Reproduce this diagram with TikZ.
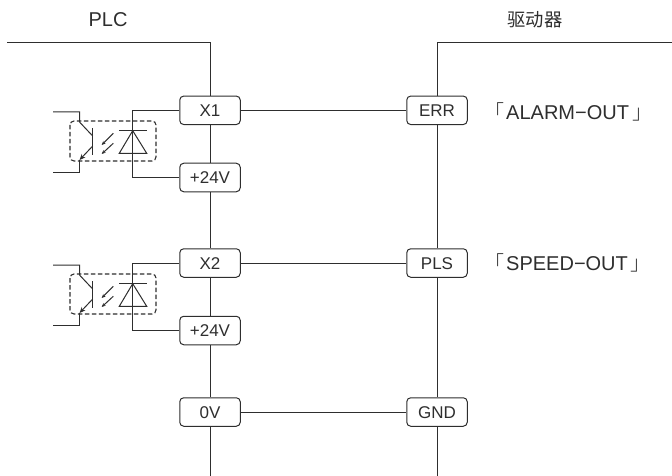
\documentclass[tikz,border=0pt]{standalone}
\usepackage{fontspec}
\setmainfont{Liberation Sans}
\newfontfamily\cjk{Noto Sans CJK SC}
\newfontfamily\cjklight{Noto Sans CJK SC Light}
\usetikzlibrary{calc,positioning,arrows.meta}
\definecolor{wire}{HTML}{2E2E2E}
\newcommand\coupler[3]{% shift, upper terminal, lower terminal
  \begin{scope}[yshift=#1]
    \draw[wireline] (53,112) -- (79.5,112) -- (79.5,122) -- (92.7,136);
    \draw[wireline,-{Stealth[length=6pt,width=5pt]}] (92.7,146) -- (79.5,160);
    \draw[wireline] (79.5,160) -- (79.5,172) -- (53,172);
    \draw[wireline,line width=1.3pt] (92.7,128) -- (92.7,155);
    \draw[wireline,line width=1.1pt,dash pattern=on 4.5pt off 2.5pt,rounded corners=4pt] (70,121) rectangle (156,161);
    \draw[wireline] (119.3,130.7) -- (146.7,130.7);
    \draw[wireline] (132.7,130.7) -- (119.3,153.3) -- (146.7,153.3) -- cycle;
    % light
    \draw[wireline,-{Stealth[length=4pt,width=3.5pt]}] (113.3,133.3) -- (101.7,145);
    \draw[wireline,-{Stealth[length=4pt,width=3.5pt]}] (113.3,143.3) -- (101.7,154);
  \end{scope}
  \draw[wireline] (#2.west) -| (132.7,0 |- #3.west) -- (#3.west);
}
\tikzset{
  wireline/.style={draw=wire,line width=1pt},
  terminal/.style={wireline,fill=white,rounded corners=4pt,minimum width=60.5pt,minimum height=28.5pt,inner sep=0pt,text=wire,text height=12.2pt,text depth=0pt,font=\fontsize{17}{19}\selectfont},
  caption/.style={text=wire,inner sep=0pt,font=\fontsize{20}{22}\selectfont},
}
\begin{document}
\begin{tikzpicture}[x=1pt,y=-1pt]
  \useasboundingbox (0,0) rectangle (672,476);
  \coordinate (plcleft) at (7,43);
  \coordinate (plctop) at (210,43);
  \coordinate (plcend) at (210,476);
  \coordinate (drvright) at (672,43);
  \coordinate (drvtop) at (437,43);
  \coordinate (drvend) at (437,476);
  \node[terminal] (x1) at (210,110.3) {X1};
  \node[terminal] (p1) at (210,177.5) {+24V};
  \node[terminal] (x2) at (210,263) {X2};
  \node[terminal] (p2) at (210,330.5) {+24V};
  \node[terminal] (ov) at (210,412) {0V};
  \node[terminal] (err) at (437,110.3) {ERR};
  \node[terminal] (pls) at (437,263) {PLS};
  \node[terminal] (gnd) at (437,412) {GND};
  \node[caption] (plc) at (108,20) {PLC};
  \node[caption,font=\fontsize{18.3}{20}\selectfont] (drv) at (535,20) {\cjk 驱动器};
  \node[caption,anchor=west] (alarm) at (484,112) {{\cjklight「}\kern2pt ALARM−OUT\kern3pt{\cjklight 」}};
  \node[caption,anchor=west] (speed) at (484,263) {{\cjklight「}\kern2pt SPEED−OUT\kern3pt{\cjklight 」}};
  \draw[wireline] (plcleft) -- (plctop) -- (x1) -- (p1) -- (x2) -- (p2) -- (ov) -- (plcend);
  \draw[wireline] (drvright) -- (drvtop) -- (err) -- (pls) -- (gnd) -- (drvend);
  \draw[wireline] (x1) -- (err);
  \draw[wireline] (x2) -- (pls);
  \draw[wireline] (ov) -- (gnd);
  \coupler{0pt}{x1}{p1}
  \coupler{-153pt}{x2}{p2}
\end{tikzpicture}
\end{document}
